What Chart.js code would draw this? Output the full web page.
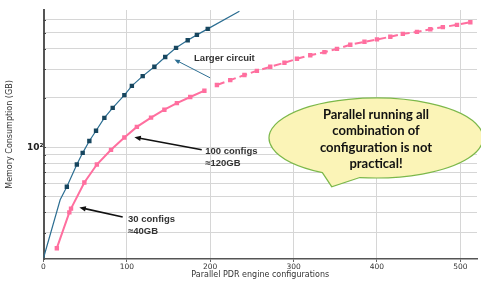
<!DOCTYPE html>
<html>
<head>
<meta charset="utf-8">
<script src="https://cdn.jsdelivr.net/npm/chart.js@4.4.1/dist/chart.umd.min.js"></script>
<style>
html,body{margin:0;padding:0;background:#fff;}
#wrap{width:481px;height:282px;position:relative;}
</style>
</head>
<body>
<div id="wrap"><canvas id="c" width="481" height="282"></canvas></div>
<script>
// ---- data ----
const largerX = [0, 20, 28, 40, 47, 55, 63, 73, 83, 97, 106, 119, 133, 146, 159, 173, 184, 197, 235];
const largerY = [21, 47.7, 57.3, 78.3, 92.3, 109, 126, 151, 174, 208, 237, 272, 310, 356, 405, 451, 486, 529, 678];
const largerMarked = [0, 0, 1, 1, 1, 1, 1, 1, 1, 1, 1, 1, 1, 1, 1, 1, 1, 1, 0];

const measuredX = [16, 31, 33, 49, 64, 81, 97, 112, 129, 145, 160, 176, 193];
const measuredY = [24.1, 39.9, 42.1, 60.8, 78.3, 96.3, 114.5, 133, 151.5, 169.4, 186, 202.6, 221.5];

const projectedX = [208, 224, 241, 256, 272, 289, 304, 320, 337, 352, 368, 385, 400, 416, 431, 448, 464, 479, 496, 512];
const projectedY = [240, 257, 276, 293, 310, 328, 347, 365, 381, 399, 423, 441, 456, 473, 493, 507, 526, 542, 560, 581];

const xTicks = [0, 100, 200, 300, 400, 500];
const yTicks = [30, 40, 50, 60, 70, 80, 90, 100, 200, 300, 400, 500, 600];
const yLabelled = [100];

const toPts = (xs, ys) => xs.map((x, i) => ({x: x, y: ys[i]}));

const BLUE_LINE = '#2c6e92';
const BLUE_MARK = '#17465f';
const PINK = '#ff6f9f';

const annotations = {
  id: 'annotations',
  afterDatasetsDraw(chart) {
    const ctx = chart.ctx;
    const xs = chart.scales.x, ys = chart.scales.y;
    const P = (x, y) => [xs.getPixelForValue(x), ys.getPixelForValue(y)];

    // small inward tick marks on the y axis
    ctx.save();
    ctx.strokeStyle = '#444'; ctx.lineWidth = 1;
    ys.ticks.forEach(t => {
      const py = Math.round(ys.getPixelForValue(t.value)) + 0.5;
      ctx.beginPath(); ctx.moveTo(chart.chartArea.left, py); ctx.lineTo(chart.chartArea.left + 2.5, py); ctx.stroke();
    });
    ctx.restore();

    function arrow(from, to, color, w, head) {
      const [x1, y1] = P(from[0], from[1]);
      const [x2, y2] = P(to[0], to[1]);
      const a = Math.atan2(y2 - y1, x2 - x1);
      ctx.save();
      ctx.strokeStyle = color; ctx.fillStyle = color; ctx.lineWidth = w;
      ctx.beginPath();
      ctx.moveTo(x1, y1);
      ctx.lineTo(x2 - Math.cos(a) * head * 0.8, y2 - Math.sin(a) * head * 0.8);
      ctx.stroke();
      ctx.beginPath();
      ctx.moveTo(x2, y2);
      ctx.lineTo(x2 - head * Math.cos(a - 0.4), y2 - head * Math.sin(a - 0.4));
      ctx.lineTo(x2 - head * Math.cos(a + 0.4), y2 - head * Math.sin(a + 0.4));
      ctx.closePath();
      ctx.fill();
      ctx.restore();
    }
    function text(lines, x, y, font, color, lh) {
      const [px, py] = P(x, y);
      ctx.save();
      ctx.font = font; ctx.fillStyle = color;
      ctx.textAlign = 'left'; ctx.textBaseline = 'middle';
      lines.forEach((l, i) => ctx.fillText(l, px, py + i * lh));
      ctx.restore();
    }

    const F = '600 9.5px "Liberation Sans", Arial, sans-serif';
    // Larger circuit
    arrow([199.8, 265.6], [157, 344], BLUE_LINE, 1, 6);
    text(['Larger circuit'], 180.6, 349, F, '#333', 12);
    // 100 configs
    arrow([189.8, 96.3], [109, 115], '#111', 1.6, 7);
    text(['100 configs', '\u2248120GB'], 194, 94.5, F, '#333', 12);
    // 30 configs
    arrow([95, 37.4], [43, 42.8], '#111', 1.6, 7);
    text(['30 configs', '\u224840GB'], 101.4, 36.2, F, '#333', 12);

    // speech bubble
    ctx.save();
    const cx = 376, cy = 138, rx = 107, ry = 40;
    const a1 = Math.atan2((172 - cy) / ry, (323.3 - cx) / rx);
    const a2 = Math.atan2((177 - cy) / ry, (360 - cx) / rx);
    ctx.beginPath();
    ctx.ellipse(cx, cy, rx, ry, 0, a1, a2 + 2 * Math.PI, false);
    ctx.lineTo(331.7, 186.7);
    ctx.closePath();
    ctx.fillStyle = '#fbf4b7';
    ctx.fill();
    ctx.strokeStyle = '#7cb84a';
    ctx.lineWidth = 1.2;
    ctx.stroke();
    ctx.fillStyle = '#111';
    ctx.font = 'bold 13px Lato, "Open Sans", sans-serif';
    ctx.textAlign = 'center'; ctx.textBaseline = 'middle';
    ['Parallel running all', 'combination of', 'configuration is not', 'practical!']
      .forEach((l, i) => ctx.fillText(l, 376, 114.5 + i * 16.5));
    ctx.restore();
  }
};

new Chart(document.getElementById('c'), {
  type: 'line',
  data: {
    datasets: [
      {
        data: toPts(largerX, largerY),
        borderColor: BLUE_LINE, borderWidth: 1.2,
        pointStyle: 'rect',
        pointRadius: largerMarked.map(m => m ? 3.1 : 0),
        pointBackgroundColor: BLUE_MARK, pointBorderColor: BLUE_MARK, pointBorderWidth: 0,
        tension: 0
      },
      {
        data: toPts(measuredX, measuredY),
        borderColor: PINK, borderWidth: 2,
        pointStyle: 'rect', pointRadius: 3.1,
        pointBackgroundColor: PINK, pointBorderColor: PINK, pointBorderWidth: 0,
        tension: 0
      },
      {
        data: toPts(projectedX, projectedY),
        borderColor: PINK, borderWidth: 2, borderDash: [8, 4],
        pointStyle: 'rect', pointRadius: 3.1,
        pointBackgroundColor: PINK, pointBorderColor: PINK, pointBorderWidth: 0,
        tension: 0
      }
    ]
  },
  options: {
    responsive: false,
    animation: false,
    events: [],
    layout: {padding: {top: 10, right: 4, left: 0, bottom: 0}},
    plugins: {legend: {display: false}, tooltip: {enabled: false}},
    scales: {
      x: {
        type: 'linear', min: 0, max: 520,
        afterBuildTicks: s => { s.ticks = xTicks.map(v => ({value: v})); },
        afterFit: s => { s.height = 23; },
        ticks: {font: {family: 'DejaVu Sans', size: 7.5}, color: '#333', padding: 1, maxRotation: 0, autoSkip: false},
        grid: {color: '#d6d6d6', lineWidth: 1, drawTicks: true, tickLength: 3, tickColor: '#666'},
        border: {color: '#555', width: 1.5},
        title: {display: true, text: 'Parallel PDR engine configurations',
                font: {family: 'DejaVu Sans', size: 8}, color: '#333', padding: {top: 0, bottom: 2}}
      },
      y: {
        type: 'logarithmic', min: 20.7, max: 690,
        afterBuildTicks: s => { s.ticks = yTicks.map(v => ({value: v, major: yLabelled.includes(v)})); },
        afterFit: s => { s.width = 43.5; },
        ticks: {
          font: {family: 'DejaVu Sans', size: 9, weight: 'bold'}, color: '#222', padding: 0, autoSkip: false,
          callback: v => (yLabelled.includes(v) ? '10\u00b2' : '')
        },
        grid: {color: '#d6d6d6', lineWidth: 1, drawTicks: false},
        border: {color: '#555', width: 2},
        title: {display: true, text: 'Memory Consumption (GB)',
                font: {family: 'DejaVu Sans', size: 8}, color: '#333', padding: {top: 5, bottom: 0}}
      }
    }
  },
  plugins: [annotations]
});
</script>
</body>
</html>
